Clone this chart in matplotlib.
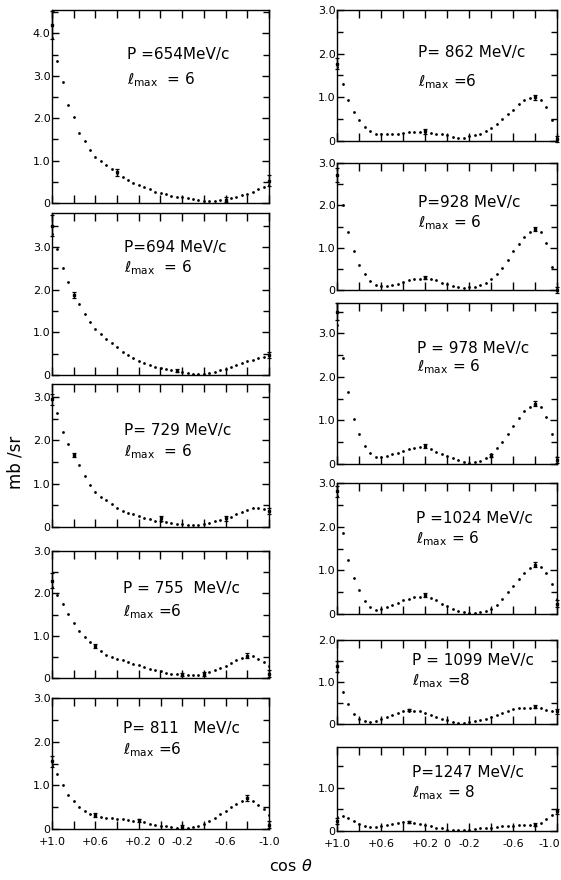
import numpy as np
import matplotlib
matplotlib.use("Agg")
import matplotlib.pyplot as plt
from matplotlib import font_manager
from matplotlib.ticker import MultipleLocator, FixedLocator, FixedFormatter

# cos(theta) grid of the fitted curves
cos_t = [1.0, 0.95, 0.9, 0.85, 0.8, 0.75, 0.7, 0.65, 0.6, 0.55, 0.5,
         0.45, 0.4, 0.35, 0.3, 0.25, 0.2, 0.15, 0.1, 0.05, 0.0,
         -0.05, -0.1, -0.15, -0.2, -0.25, -0.3, -0.35, -0.4, -0.45, -0.5,
         -0.55, -0.6, -0.65, -0.7, -0.75, -0.8, -0.85, -0.9, -0.95, -1.0]

# fitted curves (mb/sr)
fit_654 = [3.9, 3.35, 2.85, 2.3, 2.02, 1.65, 1.45, 1.25, 1.08, 0.99, 0.90,
           0.80, 0.71, 0.62, 0.55, 0.48, 0.43, 0.38, 0.33, 0.27, 0.23,
           0.21, 0.17, 0.15, 0.13, 0.11, 0.09, 0.07, 0.05, 0.04, 0.05,
           0.06, 0.08, 0.12, 0.15, 0.18, 0.22, 0.27, 0.32, 0.37, 0.43]
fit_694 = [3.3, 2.96, 2.52, 2.18, 1.88, 1.66, 1.44, 1.25, 1.09, 0.95, 0.84,
           0.74, 0.65, 0.55, 0.47, 0.41, 0.34, 0.28, 0.23, 0.19, 0.16,
           0.13, 0.11, 0.09, 0.07, 0.05, 0.03, 0.02, 0.02, 0.04, 0.07,
           0.11, 0.15, 0.19, 0.23, 0.28, 0.32, 0.36, 0.40, 0.43, 0.46]
fit_729 = [2.95, 2.63, 2.2, 1.91, 1.68, 1.43, 1.17, 0.97, 0.80, 0.70, 0.62,
           0.54, 0.45, 0.38, 0.33, 0.29, 0.25, 0.21, 0.18, 0.15, 0.13,
           0.11, 0.09, 0.07, 0.06, 0.05, 0.04, 0.05, 0.07, 0.10, 0.13,
           0.16, 0.20, 0.24, 0.30, 0.35, 0.40, 0.43, 0.45, 0.42, 0.36]
fit_755 = [2.15, 1.96, 1.75, 1.52, 1.29, 1.10, 0.96, 0.86, 0.74, 0.63, 0.55,
           0.49, 0.45, 0.42, 0.37, 0.34, 0.30, 0.26, 0.21, 0.18, 0.16,
           0.12, 0.10, 0.09, 0.07, 0.06, 0.06, 0.07, 0.09, 0.13, 0.18,
           0.23, 0.28, 0.35, 0.42, 0.48, 0.52, 0.51, 0.45, 0.37, 0.28]
fit_811 = [1.45, 1.25, 1.0, 0.79, 0.65, 0.50, 0.41, 0.35, 0.31, 0.28, 0.26,
           0.25, 0.24, 0.22, 0.20, 0.19, 0.18, 0.16, 0.12, 0.10, 0.08,
           0.06, 0.05, 0.03, 0.03, 0.02, 0.04, 0.07, 0.12, 0.18, 0.25,
           0.34, 0.42, 0.50, 0.58, 0.65, 0.70, 0.64, 0.56, 0.45, 0.32]
fit_862 = [1.7, 1.31, 0.95, 0.67, 0.48, 0.32, 0.23, 0.17, 0.15, 0.15, 0.15,
           0.17, 0.19, 0.21, 0.21, 0.21, 0.21, 0.19, 0.17, 0.15, 0.13,
           0.10, 0.07, 0.08, 0.11, 0.13, 0.17, 0.22, 0.30, 0.40, 0.50,
           0.61, 0.72, 0.84, 0.93, 0.98, 1.00, 0.94, 0.78, 0.48, 0.10]
fit_928 = [2.72, 2.0, 1.38, 0.92, 0.58, 0.38, 0.21, 0.12, 0.10, 0.10, 0.12,
           0.15, 0.19, 0.23, 0.25, 0.27, 0.28, 0.27, 0.23, 0.17, 0.13,
           0.09, 0.06, 0.05, 0.06, 0.08, 0.12, 0.17, 0.27, 0.38, 0.52,
           0.72, 0.91, 1.08, 1.25, 1.38, 1.44, 1.38, 1.12, 0.54, 0.02]
fit_978 = [3.2, 2.43, 1.66, 1.03, 0.68, 0.41, 0.26, 0.17, 0.17, 0.19, 0.23,
           0.26, 0.31, 0.34, 0.37, 0.40, 0.40, 0.35, 0.28, 0.23, 0.18,
           0.13, 0.09, 0.05, 0.03, 0.04, 0.08, 0.13, 0.22, 0.36, 0.50,
           0.68, 0.87, 1.05, 1.22, 1.32, 1.38, 1.32, 1.09, 0.68, 0.15]
fit_1024 = [2.7, 1.85, 1.24, 0.82, 0.54, 0.29, 0.16, 0.10, 0.12, 0.17, 0.21,
            0.25, 0.31, 0.35, 0.38, 0.40, 0.41, 0.37, 0.31, 0.24, 0.18,
            0.12, 0.08, 0.05, 0.03, 0.02, 0.04, 0.06, 0.11, 0.21, 0.34,
            0.50, 0.63, 0.80, 0.95, 1.05, 1.11, 1.08, 0.94, 0.69, 0.35]
fit_1099 = [1.25, 0.77, 0.47, 0.24, 0.13, 0.07, 0.05, 0.07, 0.11, 0.17, 0.22,
            0.26, 0.30, 0.32, 0.32, 0.30, 0.26, 0.22, 0.17, 0.13, 0.09,
            0.05, 0.03, 0.03, 0.05, 0.07, 0.09, 0.13, 0.17, 0.22, 0.27,
            0.32, 0.36, 0.38, 0.39, 0.39, 0.40, 0.37, 0.34, 0.32, 0.30]
fit_1247 = [0.32, 0.35, 0.31, 0.24, 0.17, 0.12, 0.09, 0.09, 0.11, 0.13, 0.16,
            0.19, 0.21, 0.21, 0.19, 0.16, 0.13, 0.11, 0.08, 0.06, 0.03,
            0.02, 0.02, 0.02, 0.03, 0.04, 0.06, 0.07, 0.08, 0.09, 0.11,
            0.12, 0.12, 0.13, 0.13, 0.15, 0.16, 0.19, 0.27, 0.37, 0.44]

# measured points with errors: (cos theta, value, error)
err_654 = [(1.0, 4.2, 0.33), (0.4, 0.72, 0.08), (-0.6, 0.08, 0.06), (-1.0, 0.52, 0.13)]
err_694 = [(1.0, 3.5, 0.25), (0.8, 1.88, 0.07), (-0.15, 0.10, 0.04), (-1.0, 0.47, 0.07)]
err_729 = [(1.0, 2.95, 0.13), (0.8, 1.66, 0.05), (0.0, 0.20, 0.06), (-0.6, 0.20, 0.05),
           (-1.0, 0.36, 0.07)]
err_755 = [(1.0, 2.3, 0.17), (0.6, 0.75, 0.05), (-0.2, 0.08, 0.04), (-0.4, 0.09, 0.04),
           (-0.8, 0.53, 0.06), (-1.0, 0.10, 0.08)]
err_811 = [(1.0, 1.55, 0.12), (0.6, 0.32, 0.05), (0.2, 0.20, 0.04), (-0.2, 0.05, 0.04),
           (-0.8, 0.72, 0.07), (-1.0, 0.10, 0.08)]
err_862 = [(1.0, 1.77, 0.13), (0.2, 0.22, 0.05), (-0.8, 1.0, 0.05), (-1.0, 0.05, 0.07)]
err_928 = [(1.0, 2.72, 0.17), (0.2, 0.29, 0.04), (-0.8, 1.45, 0.05), (-1.0, 0.0, 0.07)]
err_978 = [(1.0, 3.5, 0.19), (0.2, 0.41, 0.04), (-0.4, 0.19, 0.04), (-0.8, 1.39, 0.06),
           (-1.0, 0.09, 0.06)]
err_1024 = [(1.0, 2.81, 0.12), (0.2, 0.43, 0.05), (-0.8, 1.13, 0.06), (-1.0, 0.24, 0.07)]
err_1099 = [(1.0, 1.38, 0.13), (0.35, 0.33, 0.03), (-0.8, 0.41, 0.04), (-1.0, 0.30, 0.06)]
err_1247 = [(1.0, 0.24, 0.07), (0.35, 0.21, 0.03), (-0.8, 0.15, 0.03), (-1.0, 0.46, 0.06)]

momentum_labels = ["P =654MeV/c", "P=694 MeV/c", "P= 729 MeV/c", "P = 755  MeV/c",
                   "P= 811   MeV/c", "P= 862 MeV/c", "P=928 MeV/c", "P = 978 MeV/c",
                   "P =1024 MeV/c", "P = 1099 MeV/c", "P=1247 MeV/c"]
lmax_labels = ["  = 6", "  = 6", "  = 6", " =6", " =6", " =6", " = 6", " = 6",
               " = 6", " =8", " = 8"]
y_max = [4.55, 3.8, 3.3, 3.0, 3.0, 3.0, 3.0, 3.7, 3.0, 2.0, 1.95]

xtick_pos = [1.0, 0.8, 0.6, 0.4, 0.2, 0.0, -0.2, -0.4, -0.6, -0.8, -1.0]
xtick_lab = ["+1.0", "", "+0.6", "", "+0.2", "0", "-0.2", "", "-0.6", "", "-1.0"]

fits = [fit_654, fit_694, fit_729, fit_755, fit_811, fit_862,
        fit_928, fit_978, fit_1024, fit_1099, fit_1247]
errs = [err_654, err_694, err_729, err_755, err_811, err_862,
        err_928, err_978, err_1024, err_1099, err_1247]


def pick_font(names):
    for n in names:
        try:
            font_manager.findfont(n, fallback_to_default=False)
            return n
        except Exception:
            pass
    return "DejaVu Sans"


tick_font = pick_font(["Liberation Sans Narrow", "DejaVu Sans"])

W, H = 561, 880
fig = plt.figure(figsize=(W / 100, H / 100), dpi=100)

# panel frames in pixels: (left, right, top, bottom)
frames = [(52, 269, 10, 203), (52, 269, 213, 375), (52, 269, 384, 527),
          (52, 269, 551, 678), (52, 269, 698, 829),
          (337, 557, 10, 141), (337, 557, 163, 290), (337, 557, 303, 464),
          (337, 557, 483, 614), (337, 557, 640, 724), (337, 557, 747, 831)]
# text anchor (left x, first line y, second line y) in pixels
text_pos = [(127, 55, 80), (124, 247, 268), (124, 430, 452), (123, 588, 612),
            (123, 728, 750), (418, 53, 82), (418, 203, 223), (417, 348, 367),
            (416, 518, 539), (412, 660, 681), (412, 772, 793)]

for i in range(11):
    l, r, t, b = frames[i]
    ax = fig.add_axes([l / W, 1 - b / H, (r - l) / W, (b - t) / H])
    ax.plot(cos_t, fits[i], "o", ms=2.0, color="black", mec="none")
    e = np.array(errs[i])
    ax.errorbar(e[:, 0], e[:, 1], yerr=e[:, 2], fmt="none", ecolor="black",
                elinewidth=1.0, capsize=1.6, capthick=0.9, clip_on=False)
    ax.plot(e[:, 0], e[:, 1], "s", ms=2, color="black", clip_on=False)
    ax.set_xlim(1.0, -1.0)
    ax.set_ylim(0, y_max[i])
    for s in ax.spines.values():
        s.set_linewidth(1.0)
    ax.xaxis.set_major_locator(MultipleLocator(0.2))
    ax.yaxis.set_minor_locator(MultipleLocator(0.5))
    ax.tick_params(which="both", direction="in", top=True, right=True,
                   width=1.0, labelsize=8)
    ax.tick_params(which="major", length=5)
    ax.tick_params(which="minor", length=4)
    ax.tick_params(axis="x", length=6)
    yt = [v for v in [0, 1, 2, 3, 4] if v <= y_max[i]]
    ax.yaxis.set_major_locator(FixedLocator(yt))
    ax.yaxis.set_major_formatter(FixedFormatter(["0" if v == 0 else "%.1f" % v for v in yt]))
    for lab in ax.get_yticklabels():
        lab.set_fontfamily(tick_font)
    ax.tick_params(axis="y", pad=1)
    if i in (4, 10):
        ax.set_xticks(xtick_pos)
        labs = list(xtick_lab)
        if i == 10:
            # last label sits against the page edge
            labs[-1] = ""
            ax.annotate(xtick_lab[-1], xy=(xtick_pos[-1], 0),
                        xycoords=("data", "axes fraction"), xytext=(2.5, -6),
                        textcoords="offset points", ha="right", va="top",
                        fontsize=8, fontfamily=tick_font)
        ax.set_xticklabels(labs, fontfamily=tick_font, fontsize=8)
        ax.tick_params(axis="x", pad=6)
    else:
        ax.set_xticklabels([])

    tx, ty1, ty2 = text_pos[i]
    fig.text(tx / W, 1 - ty1 / H, momentum_labels[i], fontsize=11,
             ha="left", va="center")
    fig.text(tx / W, 1 - ty2 / H, r"$\ell_{\rm max}$" + lmax_labels[i],
             fontsize=11, ha="left", va="center")

fig.text(16 / W, 1 - 462 / H, "mb /sr", rotation=90, fontsize=12,
         ha="center", va="center")
fig.text(291 / W, 1 - 866 / H, r"cos $\theta$", fontsize=11.5,
         ha="center", va="center")

fig.savefig("out.png", dpi=100)
